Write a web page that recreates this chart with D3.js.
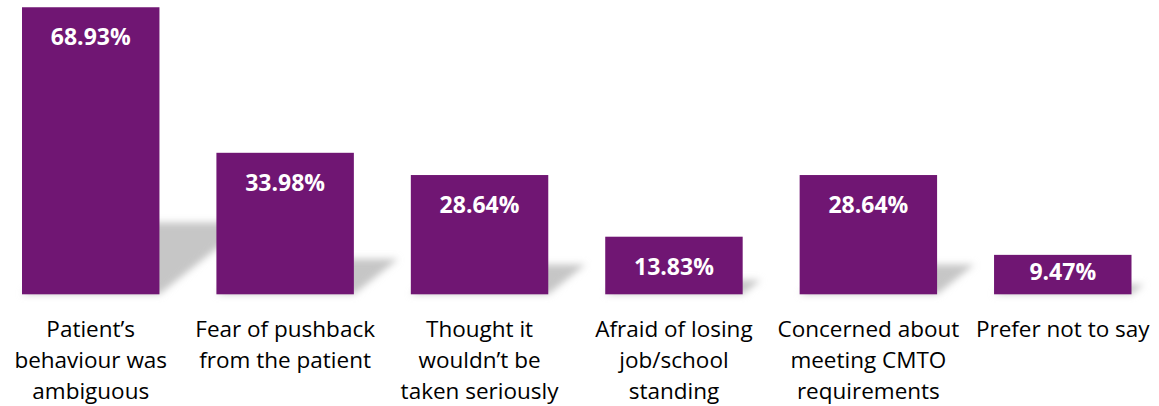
<!DOCTYPE html>
<html>
<head>
<meta charset="utf-8">
<script src="https://cdn.jsdelivr.net/npm/d3@7"></script>
<style>
  html, body { margin: 0; padding: 0; background: #ffffff; }
  svg { display: block; }
</style>
</head>
<body>
<div id="chart"></div>
<script>
// Reasons given, split into the lines shown under each bar
const categories = [
  "Patient’s behaviour was ambiguous",
  "Fear of pushback from the patient",
  "Thought it wouldn’t be taken seriously",
  "Afraid of losing job/school standing",
  "Concerned about meeting CMTO requirements",
  "Prefer not to say"
];
const categoryLines = [
  ["Patient’s", "behaviour was", "ambiguous"],
  ["Fear of pushback", "from the patient"],
  ["Thought it", "wouldn’t be", "taken seriously"],
  ["Afraid of losing", "job/school", "standing"],
  ["Concerned about", "meeting CMTO", "requirements"],
  ["Prefer not to say"]
];
// Share of respondents (%)
const values = [68.93, 33.98, 28.64, 13.83, 28.64, 9.47];
const valueLabels = ["68.93%", "33.98%", "28.64%", "13.83%", "28.64%", "9.47%"];

const width = 1159, height = 406;
const barColor = "#701673";
const fontFamily = "'Open Sans', 'Noto Sans', sans-serif";

const svg = d3.select("#chart").append("svg")
  .attr("width", width)
  .attr("height", height);

const x = d3.scaleBand()
  .domain(categories)
  .range([22, 1131.5])
  .paddingInner(0.293)
  .paddingOuter(0);

const y = d3.scaleLinear()
  .domain([0, 70])
  .range([294.3, 2.8]);

// Soft perspective shadow cast behind each bar
const defs = svg.append("defs");
defs.append("filter")
  .attr("id", "shadowBlur")
  .attr("x", "-20%").attr("y", "-40%")
  .attr("width", "140%").attr("height", "180%")
  .append("feGaussianBlur")
  .attr("stdDeviation", 3.5);

const rows = categories.map((c, i) => ({ c, v: values[i], label: valueLabels[i], lines: categoryLines[i] }));

svg.append("g")
  .attr("filter", "url(#shadowBlur)")
  .selectAll("polygon")
  .data(rows)
  .join("polygon")
  .attr("fill", "#c6c6c6")
  .attr("points", d => {
    const x0 = x(d.c), w = x.bandwidth(), base = y(0);
    const h = (y(0) - y(d.v)) * 0.25;
    const dx = h * 1.25;
    return [
      [x0, base], [x0 + w, base], [x0 + w + dx, base - h], [x0 + dx, base - h]
    ].map(p => p.join(",")).join(" ");
  });

// Bars
svg.append("g")
  .selectAll("rect")
  .data(rows)
  .join("rect")
  .attr("x", d => x(d.c))
  .attr("y", d => y(d.v))
  .attr("width", x.bandwidth())
  .attr("height", d => y(0) - y(d.v))
  .attr("fill", barColor);

// Value labels inside the top of each bar (kept inside short bars)
svg.append("g")
  .selectAll("text")
  .data(rows)
  .join("text")
  .attr("x", d => x(d.c) + x.bandwidth() / 2)
  .attr("y", d => Math.min(y(d.v) + 38, y(0) - 14.5))
  .attr("text-anchor", "middle")
  .attr("fill", "#ffffff")
  .style("font-family", fontFamily)
  .style("font-weight", "700")
  .style("font-size", "23px")
  .text(d => d.label);

// Category axis with multi-line labels
const axis = svg.append("g")
  .attr("transform", `translate(0,${y(0)})`)
  .call(d3.axisBottom(x).tickSize(0).tickPadding(0));
axis.select(".domain").remove();
axis.selectAll(".tick text")
  .attr("y", 0)
  .attr("dy", null)
  .attr("fill", "#000000")
  .style("font-family", fontFamily)
  .style("font-size", "22.5px")
  .text(null)
  .each(function(c, i) {
    const t = d3.select(this);
    categoryLines[i].forEach((line, j) => {
      t.append("tspan")
        .attr("x", 0)
        .attr("y", 42.4 + j * 31.3)
        .text(line);
    });
  });
</script>
</body>
</html>
